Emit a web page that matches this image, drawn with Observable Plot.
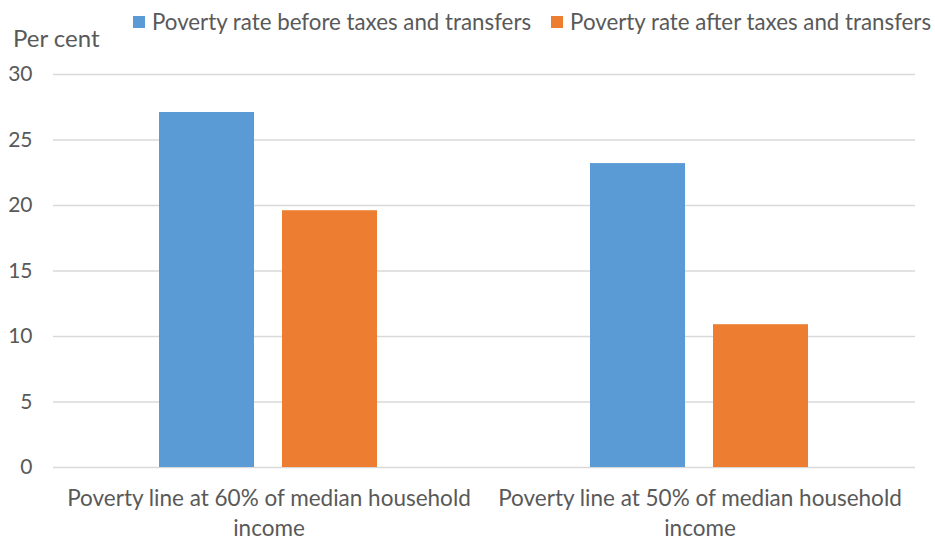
<!DOCTYPE html>
<html>
<head>
<meta charset="utf-8">
<script src="https://cdn.jsdelivr.net/npm/d3@7"></script>
<script src="https://cdn.jsdelivr.net/npm/@observablehq/plot@0.6"></script>
<style>
  body { margin: 0; background: #fff; }
  #wrap { position: relative; width: 935px; height: 540px; font-family: Lato, "Open Sans", sans-serif; color: #595959; }
  #legend { position: absolute; left: 133px; top: 8px; display: flex; align-items: center; font-size: 22.3px; white-space: nowrap; }
  #legend .item { display: flex; align-items: center; margin-right: 20px; }
  #legend .sw { width: 12px; height: 12px; margin-right: 7px; }
  #unit { position: absolute; left: 13px; top: 23px; font-size: 24px; }
  #chart { position: absolute; left: 0; top: 0; }
</style>
</head>
<body>
<div id="wrap">
  <div id="chart"></div>
  <div id="unit">Per cent</div>
  <div id="legend"></div>
</div>
<script>
const categories = ["Poverty line at 60% of median household income", "Poverty line at 50% of median household income"];
const series = ["Poverty rate before taxes and transfers", "Poverty rate after taxes and transfers"];
const beforeValues = [27.1, 23.2];
const afterValues = [19.6, 10.9];
const yTicks = [0, 5, 10, 15, 20, 25, 30];
const colors = ["#5b9bd5", "#ed7d31"];

const data = categories.flatMap((c, i) => [
  {category: c, series: series[0], value: beforeValues[i]},
  {category: c, series: series[1], value: afterValues[i]}
]);

const legend = document.getElementById("legend");
series.forEach((s, i) => {
  const item = document.createElement("div");
  item.className = "item";
  const sw = document.createElement("span");
  sw.className = "sw";
  sw.style.background = colors[i];
  const t = document.createElement("span");
  t.textContent = s;
  item.appendChild(sw);
  item.appendChild(t);
  legend.appendChild(item);
});

const chart = Plot.plot({
  width: 935,
  height: 540,
  marginTop: 74,
  marginBottom: 73,
  marginLeft: 53,
  marginRight: 20,
  style: {fontFamily: "Lato, 'Open Sans', sans-serif", fontSize: "20px", color: "#595959", background: "transparent"},
  fx: {domain: categories, padding: 0, label: null},
  x: {domain: series, paddingInner: 0.226, paddingOuter: 0.851, axis: null},
  y: {domain: [0, 30], label: null},
  color: {domain: series, range: colors},
  marks: [
    Plot.ruleY(yTicks, {stroke: "#d9d9d9", strokeWidth: 1.5}),
    Plot.barY(data, {fx: "category", x: "series", y: "value", fill: "series"}),
    Plot.axisY(yTicks, {tickSize: 0, tickPadding: 21, label: null, fontSize: 21, fill: "#595959"}),
    Plot.axisFx({anchor: "bottom", tickSize: 0, tickPadding: 18, label: null, fontSize: 22.5, fill: "#595959", lineHeight: 1.3,
      tickFormat: d => d.replace(" income", "\nincome")})
  ]
});
document.getElementById("chart").appendChild(chart);
</script>
</body>
</html>
